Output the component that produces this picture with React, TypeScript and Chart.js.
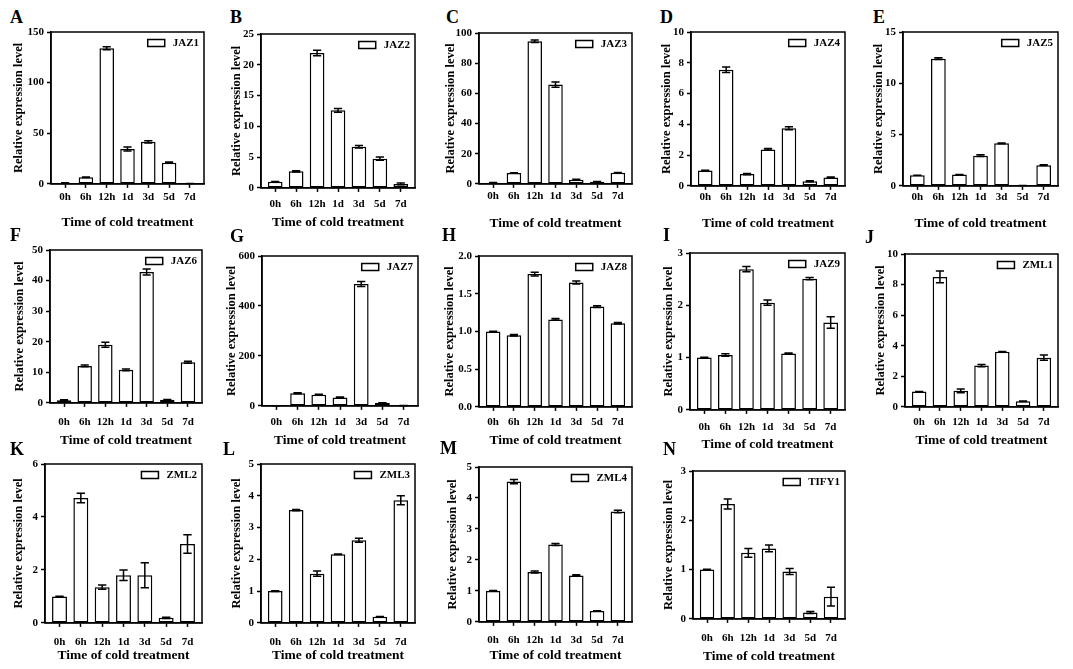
import { useEffect, useRef } from "react"
import { Chart, registerables } from "chart.js"

Chart.register(...registerables)

const SERIF = "'Liberation Serif', 'Times New Roman', serif"

// x axis categories
const timePoints = ["0h", "6h", "12h", "1d", "3d", "5d", "7d"]

// relative expression (mean) and SD per gene
const jaz1 = [1, 6.6, 134, 34.5, 41.5, 21, 0.4]
const jaz1Sd = [0.2, 0.3, 1.5, 2, 1, 0.6, 0.1]
const jaz2 = [1, 2.7, 21.9, 12.6, 6.7, 4.75, 0.65]
const jaz2Sd = [0.05, 0.1, 0.45, 0.3, 0.2, 0.25, 0.15]
const jaz3 = [0.8, 7.2, 94.5, 65.8, 2.8, 1.4, 7.4]
const jaz3Sd = [0.2, 0.2, 0.8, 1.8, 0.3, 0.2, 0.2]
const jaz4 = [1, 7.55, 0.77, 2.37, 3.75, 0.3, 0.54]
const jaz4Sd = [0.01, 0.18, 0.04, 0.06, 0.1, 0.03, 0.04]
const jaz5 = [1.04, 12.4, 1.1, 2.95, 4.15, 0.04, 2.02]
const jaz5Sd = [0.01, 0.08, 0.02, 0.08, 0.03, 0.01, 0.03]
const jaz6 = [0.9, 12.1, 19, 10.8, 42.8, 1, 13.3]
const jaz6Sd = [0.1, 0.3, 0.8, 0.3, 1.0, 0.1, 0.3]
const jaz7 = [0.5, 51, 45, 34, 488, 12, 1]
const jaz7Sd = [0.2, 2, 2, 1.5, 10, 1, 0.2]
const jaz8 = [1.0, 0.95, 1.76, 1.16, 1.65, 1.33, 1.11]
const jaz8Sd = [0.002, 0.01, 0.025, 0.01, 0.02, 0.012, 0.01]
const jaz9 = [1.0, 1.05, 2.69, 2.05, 1.08, 2.51, 1.67]
const jaz9Sd = [0.005, 0.025, 0.05, 0.05, 0.01, 0.02, 0.11]
const zml1 = [1, 8.5, 1.05, 2.7, 3.6, 0.37, 3.22]
const zml1Sd = [0.01, 0.38, 0.12, 0.08, 0.02, 0.02, 0.17]
const zml2 = [1, 4.72, 1.35, 1.8, 1.8, 0.19, 2.98]
const zml2Sd = [0.01, 0.18, 0.08, 0.2, 0.47, 0.02, 0.35]
const zml3 = [1, 3.55, 1.55, 2.16, 2.6, 0.19, 3.86]
const zml3Sd = [0.01, 0.02, 0.08, 0.01, 0.06, 0.01, 0.14]
const zml4 = [1, 4.53, 1.61, 2.5, 1.5, 0.35, 3.56]
const zml4Sd = [0.01, 0.07, 0.03, 0.03, 0.02, 0.01, 0.04]
const tify1 = [1, 2.33, 1.34, 1.43, 0.96, 0.13, 0.45]
const tify1Sd = [0.005, 0.1, 0.09, 0.07, 0.06, 0.02, 0.19]

const geneNames = ["JAZ1", "JAZ2", "JAZ3", "JAZ4", "JAZ5", "JAZ6", "JAZ7", "JAZ8", "JAZ9", "ZML1", "ZML2", "ZML3", "ZML4", "TIFY1"]
const panelLetters = ["A", "B", "C", "D", "E", "F", "G", "H", "I", "J", "K", "L", "M", "N"]
const means = [jaz1, jaz2, jaz3, jaz4, jaz5, jaz6, jaz7, jaz8, jaz9, zml1, zml2, zml3, zml4, tify1]
const sds = [jaz1Sd, jaz2Sd, jaz3Sd, jaz4Sd, jaz5Sd, jaz6Sd, jaz7Sd, jaz8Sd, jaz9Sd, zml1Sd, zml2Sd, zml3Sd, zml4Sd, tify1Sd]
const yMax = [150, 25, 100, 10, 15, 50, 600, 2, 3, 10, 6, 5, 5, 3]
const yStep = [50, 5, 20, 2, 5, 10, 200, 0.5, 1, 2, 2, 1, 1, 1]

// page geometry of each panel (axis x, frame top, zero line, frame right,
// x tick label centre, x title centre, y title centre, letter position)
type Geo = { ax: number; top: number; bot: number; right: number; labY: number; titY: number; ytX: number; lx: number; ly: number }
const layout: Geo[] = [
  { ax: 51, top: 32, bot: 184, right: 204, labY: 197, titY: 223, ytX: 18, lx: 10, ly: 11 },
  { ax: 261, top: 34, bot: 188, right: 415, labY: 204, titY: 223, ytX: 236, lx: 230, ly: 11 },
  { ax: 479, top: 33, bot: 184, right: 632, labY: 196, titY: 224, ytX: 450, lx: 446, ly: 11 },
  { ax: 691, top: 32, bot: 186, right: 845, labY: 197, titY: 224, ytX: 666, lx: 660, ly: 11 },
  { ax: 903, top: 32, bot: 186, right: 1058, labY: 197, titY: 224, ytX: 878, lx: 873, ly: 11 },
  { ax: 50, top: 250, bot: 403, right: 202, labY: 422, titY: 441, ytX: 19, lx: 10, ly: 229 },
  { ax: 262, top: 256, bot: 406, right: 418, labY: 422, titY: 441, ytX: 231, lx: 230, ly: 230 },
  { ax: 479, top: 256, bot: 407, right: 632, labY: 422, titY: 441, ytX: 449, lx: 442, ly: 229 },
  { ax: 690, top: 253, bot: 410, right: 845, labY: 427, titY: 445, ytX: 668, lx: 663, ly: 229 },
  { ax: 905, top: 254, bot: 407, right: 1058, labY: 422, titY: 441, ytX: 880, lx: 865, ly: 231 },
  { ax: 45, top: 464, bot: 623, right: 202, labY: 642, titY: 656, ytX: 18, lx: 10, ly: 443 },
  { ax: 261, top: 464, bot: 623, right: 415, labY: 642, titY: 656, ytX: 236, lx: 223, ly: 443 },
  { ax: 479, top: 467, bot: 622, right: 632, labY: 640, titY: 656, ytX: 452, lx: 440, ly: 442 },
  { ax: 693, top: 471, bot: 619, right: 845, labY: 638, titY: 657, ytX: 668, lx: 663, ly: 443 },
]

const PAD_T = 10
const PAD_R = 4
const TICK_PX = 11
const Y_TITLE_PX = 12.5
const X_TITLE_PX = 13.5

function Panel({ idx }: { idx: number }) {
  const canvasRef = useRef<HTMLCanvasElement>(null)
  const g = layout[idx]
  const left = Math.round(g.ytX - (Y_TITLE_PX * 1.2) / 2)
  const yw = g.ax - left
  const xh = g.titY - g.bot + (X_TITLE_PX * 1.2) / 2
  const width = Math.round(yw + (g.right - g.ax) + PAD_R)
  const height = Math.round(PAD_T + (g.bot - g.top) + xh)
  const tickPad = Math.max(0, g.labY - g.bot - 4 - (TICK_PX * 1.2) / 2)

  useEffect(() => {
    if (!canvasRef.current) return
    const ctx = canvasRef.current.getContext("2d")
    if (!ctx) return

    const mean = means[idx]
    const sd = sds[idx]
    const tickFont = { family: SERIF, size: TICK_PX, weight: "bold" as const }

    // error bars (mean ± SD)
    const errorBars = {
      id: "errorBars",
      afterDatasetsDraw(chart: any) {
        const c = chart.ctx
        const y = chart.scales.y
        const meta = chart.getDatasetMeta(0)
        c.save()
        c.strokeStyle = "#000"
        c.lineWidth = 1.5
        meta.data.forEach((bar: any, i: number) => {
          const hi = y.getPixelForValue(mean[i] + sd[i])
          const lo = y.getPixelForValue(Math.max(0, mean[i] - sd[i]))
          const cap = bar.width * 0.28
          c.beginPath()
          c.moveTo(bar.x, hi)
          c.lineTo(bar.x, lo)
          c.moveTo(bar.x - cap, hi)
          c.lineTo(bar.x + cap, hi)
          c.moveTo(bar.x - cap, lo)
          c.lineTo(bar.x + cap, lo)
          c.stroke()
        })
        c.restore()
      },
    }

    // closed box around the plot area + legend in the top right corner
    const frameAndKey = {
      id: "frameAndKey",
      afterDraw(chart: any) {
        const { ctx: c, chartArea: a } = chart
        const ds = chart.data.datasets[0]
        c.save()
        c.strokeStyle = "#000"
        c.lineWidth = 1.5
        c.strokeRect(a.left, a.top, a.right - a.left, a.bottom - a.top)

        c.font = `bold ${TICK_PX}px ${SERIF}`
        c.fillStyle = "#000"
        c.textAlign = "right"
        c.textBaseline = "middle"
        const ty = a.top + 11
        const tr = a.right - 5
        c.fillText(ds.label, tr, ty)
        const tw = c.measureText(ds.label).width
        const bx = tr - tw - 8 - 17
        c.fillStyle = ds.backgroundColor
        c.fillRect(bx, ty - 3.5, 17, 7)
        c.strokeStyle = ds.borderColor
        c.strokeRect(bx, ty - 3.5, 17, 7)
        c.restore()
      },
    }

    const chart = new Chart(ctx, {
      type: "bar",
      data: {
        datasets: [
          {
            label: geneNames[idx],
            data: mean.map((v, i) => ({ x: i, y: v })),
            backgroundColor: "#ffffff",
            borderColor: "#000000",
            borderWidth: 1.5,
            borderSkipped: false,
          },
        ],
      },
      options: {
        animation: false,
        responsive: false,
        devicePixelRatio: 1,
        datasets: { bar: { barPercentage: 0.7, categoryPercentage: 1 } },
        layout: { padding: { top: PAD_T, right: PAD_R, left: 0, bottom: 0 } },
        plugins: {
          legend: { display: false },
          tooltip: { enabled: false },
        },
        scales: {
          x: {
            type: "linear",
            offset: false,
            min: -0.68,
            max: 6.68,
            grid: { display: true, offset: false, drawOnChartArea: false, drawTicks: true, tickLength: 4, tickColor: "#000", tickWidth: 1.5 },
            border: { display: true, color: "#000", width: 1.5 },
            afterBuildTicks: (s: any) => {
              s.ticks = timePoints.map((_, i) => ({ value: i }))
            },
            ticks: {
              autoSkip: false,
              maxRotation: 0,
              padding: tickPad,
              color: "#000",
              font: tickFont,
              callback: (v: any) => timePoints[v] ?? "",
            },
            title: {
              display: true,
              text: "Time of cold treatment",
              color: "#000",
              padding: 0,
              font: { family: SERIF, size: X_TITLE_PX, weight: "bold" },
            },
            afterFit: (s: any) => {
              s.height = xh
            },
          },
          y: {
            min: 0,
            max: yMax[idx],
            grid: { display: true, drawOnChartArea: false, drawTicks: true, tickLength: 4, tickColor: "#000", tickWidth: 1.5 },
            border: { display: true, color: "#000", width: 1.5 },
            ticks: {
              stepSize: yStep[idx],
              padding: 3,
              color: "#000",
              font: tickFont,
              callback: (v: any) => (yStep[idx] < 1 ? Number(v).toFixed(1) : String(v)),
            },
            title: {
              display: true,
              text: "Relative expression level",
              color: "#000",
              padding: 0,
              font: { family: SERIF, size: Y_TITLE_PX, weight: "bold" },
            },
            afterFit: (s: any) => {
              s.width = yw
            },
          },
        },
      },
      plugins: [errorBars, frameAndKey],
    })

    return () => {
      chart.destroy()
    }
  }, [idx])

  return (
    <>
      <div
        style={{
          position: "absolute",
          left: g.lx,
          top: g.ly - 3,
          fontFamily: SERIF,
          fontWeight: "bold",
          fontSize: 18,
          lineHeight: 1,
        }}
      >
        {panelLetters[idx]}
      </div>
      <canvas
        ref={canvasRef}
        width={width}
        height={height}
        style={{ position: "absolute", left, top: g.top - PAD_T, width, height }}
      />
    </>
  )
}

export default function App() {
  return (
    <div style={{ position: "fixed", left: 0, top: 0, width: 1073, height: 669, background: "#fff", overflow: "hidden" }}>
      {geneNames.map((_, i) => (
        <Panel key={i} idx={i} />
      ))}
    </div>
  )
}
